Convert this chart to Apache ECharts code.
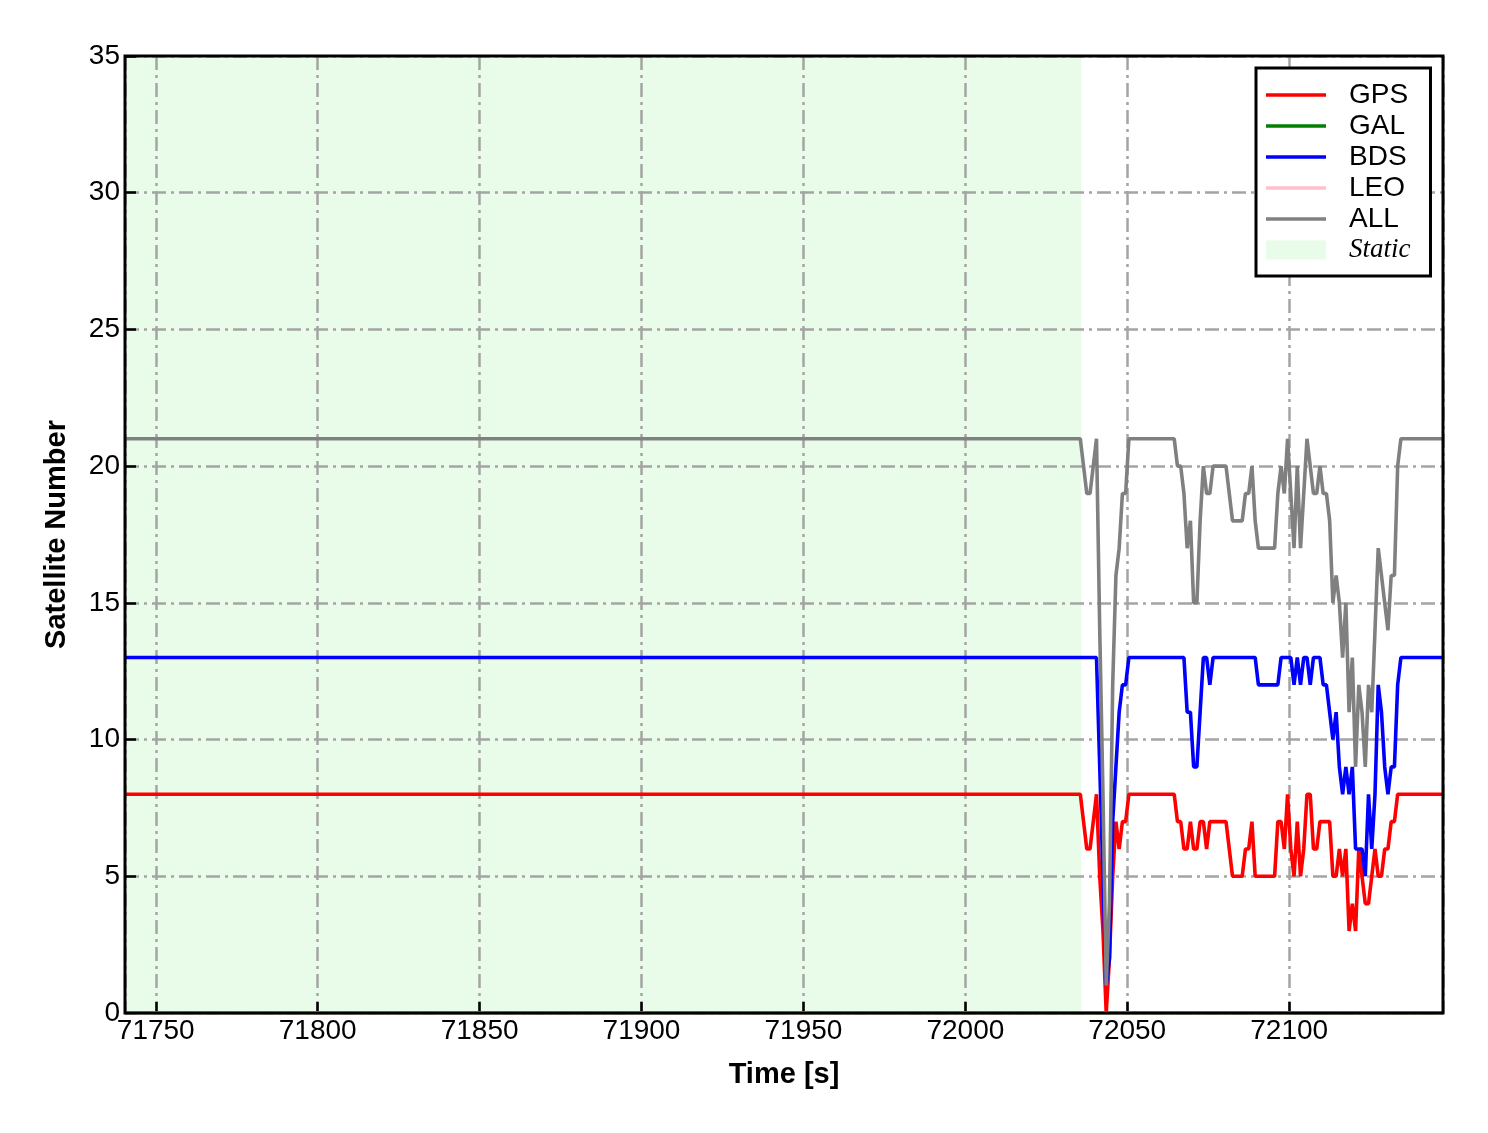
<!DOCTYPE html>
<html>
<head>
<meta charset="utf-8">
<script src="https://cdn.jsdelivr.net/npm/echarts@6/dist/echarts.min.js"></script>
<style>
html,body{margin:0;padding:0;background:#fff;}
#chart{width:1488px;height:1133px;}
</style>
</head>
<body>
<div id="chart"></div>
<script>
// Sampling times [s]
const times = [71740.5,
  72035.5,72036.5,72037.5,72038.5,72039.5,72040.5,72041.5,72042.5,72043.5,72044.5,
  72045.5,72046.5,72047.5,72048.5,72049.5,72050.5,72051.5,72052.5,72053.5,72054.5,
  72055.5,72056.5,72057.5,72058.5,72059.5,72060.5,72061.5,72062.5,72063.5,72064.5,
  72065.5,72066.5,72067.5,72068.5,72069.5,72070.5,72071.5,72072.5,72073.5,72074.5,
  72075.5,72076.5,72077.5,72078.5,72079.5,72080.5,72081.5,72082.5,72083.5,72084.5,
  72085.5,72086.5,72087.5,72088.5,72089.5,72090.5,72091.5,72092.5,72093.5,72094.5,
  72095.5,72096.5,72097.5,72098.5,72099.5,72100.5,72101.5,72102.5,72103.5,72104.5,
  72105.5,72106.5,72107.5,72108.5,72109.5,72110.5,72111.5,72112.5,72113.5,72114.5,
  72115.5,72116.5,72117.5,72118.5,72119.5,72120.5,72121.5,72122.5,72123.5,72124.5,
  72125.5,72126.5,72127.5,72128.5,72129.5,72130.5,72131.5,72132.5,72133.5,72134.5,
  72135.5,72136.5,72137.5,72138.5,72139.5,72140.5,72141.5,72142.5,72143.5,72144.5,
  72145.5,72146.5,72147.5];

const gpsCount = [8,
  8,7,6,6,7,8,5,3,0,2,
  5,7,6,7,7,8,8,8,8,8,
  8,8,8,8,8,8,8,8,8,8,
  7,7,6,6,7,6,6,7,7,6,
  7,7,7,7,7,7,6,5,5,5,
  5,6,6,7,5,5,5,5,5,5,
  5,7,7,6,8,6,5,7,5,6,
  8,8,6,6,7,7,7,7,5,5,
  6,5,6,3,4,3,6,5,4,4,
  5,6,5,5,6,6,7,7,8,8,
  8,8,8,8,8,8,8,8,8,8,
  8,8,8];

const bdsCount = [13,
  13,13,13,13,13,13,9,5,1,2,
  7,9,11,12,12,13,13,13,13,13,
  13,13,13,13,13,13,13,13,13,13,
  13,13,13,11,11,9,9,11,13,13,
  12,13,13,13,13,13,13,13,13,13,
  13,13,13,13,13,12,12,12,12,12,
  12,12,13,13,13,13,12,13,12,13,
  13,12,13,13,13,12,12,11,10,11,
  9,8,9,8,9,6,6,6,5,8,
  6,8,12,11,9,8,9,9,12,13,
  13,13,13,13,13,13,13,13,13,13,
  13,13,13];

const allCount = [21,
  21,20,19,19,20,21,14,8,1,4,
  12,16,17,19,19,21,21,21,21,21,
  21,21,21,21,21,21,21,21,21,21,
  20,20,19,17,18,15,15,18,20,19,
  19,20,20,20,20,20,19,18,18,18,
  18,19,19,20,18,17,17,17,17,17,
  17,19,20,19,21,19,17,20,17,19,
  21,20,19,19,20,19,19,18,15,16,
  15,13,15,11,13,9,12,11,9,12,
  11,14,17,16,15,14,16,16,20,21,
  21,21,21,21,21,21,21,21,21,21,
  21,21,21];

// GAL and LEO stay at zero over the whole span
const galTimes = [71740.5, 72147.5];
const galCount = [0, 0];
const leoTimes = [71740.5, 72147.5];
const leoCount = [0, 0];

// Static period
const staticPeriod = [71740.5, 72035.8];

const xRange = [71740.5, 72147.5];
const yRange = [0, 35];

const pairs = (ts, vs) => ts.map((t, i) => [t, vs[i]]);

const FONT = "'Liberation Sans', Arial, sans-serif";
const SERIF = "'Liberation Serif', 'Times New Roman', serif";
const LINE_ICON = 'path://M0,0H60V3.5H0Z';
const GRID_LINE = {color: '#a4a4a4', width: 2.5, type: [14, 5, 3, 5]};

const lineSeries = (name, ts, vs, color) => ({
  name: name,
  type: 'line',
  data: pairs(ts, vs),
  showSymbol: false,
  symbol: 'none',
  lineStyle: {color: color, width: 3.6},
  itemStyle: {color: color},
  z: 2,
  animation: false
});

const chart = echarts.init(document.getElementById('chart'), null, {renderer: 'canvas'});
chart.setOption({
  backgroundColor: '#ffffff',
  animation: false,
  grid: {
    left: 125, top: 56, right: 45, bottom: 120,
    show: true, borderColor: '#000', borderWidth: 3,
    backgroundColor: 'transparent', z: 10
  },
  xAxis: {
    type: 'value',
    min: xRange[0], max: xRange[1],
    splitNumber: 8, minInterval: 50, maxInterval: 50,
    name: 'Time [s]', nameLocation: 'middle', nameGap: 47,
    nameTextStyle: {fontFamily: FONT, fontSize: 29, fontWeight: 'bold', color: '#000'},
    axisLine: {show: false},
    axisTick: {show: true, inside: true, length: 11, lineStyle: {color: '#000', width: 2.5}},
    axisLabel: {
      fontFamily: FONT, fontSize: 28, color: '#000', margin: 4,
      showMinLabel: false, showMaxLabel: false,
      formatter: v => (Math.abs(v % 50) < 1e-6 ? String(v) : '')
    },
    splitLine: {show: true, lineStyle: GRID_LINE}
  },
  yAxis: {
    type: 'value',
    min: yRange[0], max: yRange[1], interval: 5,
    name: 'Satellite Number', nameLocation: 'middle', nameGap: 54,
    nameTextStyle: {fontFamily: FONT, fontSize: 29, fontWeight: 'bold', color: '#000'},
    axisLine: {show: false},
    axisTick: {show: true, inside: true, length: 11, lineStyle: {color: '#000', width: 2.5}},
    axisLabel: {fontFamily: FONT, fontSize: 28, color: '#000', margin: 5},
    splitLine: {show: true, lineStyle: GRID_LINE}
  },
  legend: {
    orient: 'vertical',
    left: 1256, top: 68,
    backgroundColor: '#ffffff',
    borderColor: '#000', borderWidth: 3, borderRadius: 0,
    padding: [13, 20, 12, 10],
    itemGap: 3, itemWidth: 60, itemHeight: 19,
    selectedMode: false,
    textStyle: {fontFamily: FONT, fontSize: 28, color: '#000', lineHeight: 28, padding: [0, 0, 0, 18]},
    data: [
      {name: 'GPS', icon: LINE_ICON},
      {name: 'GAL', icon: LINE_ICON},
      {name: 'BDS', icon: LINE_ICON},
      {name: 'LEO', icon: LINE_ICON},
      {name: 'ALL', icon: LINE_ICON},
      {name: 'Static', icon: 'rect', itemStyle: {color: '#e9fce9'},
       textStyle: {fontFamily: SERIF, fontStyle: 'italic', fontSize: 27}}]
  },
  series: [
    {
      name: 'Static', type: 'line', data: [], z: 0,
      itemStyle: {color: '#e9fce9'},
      markArea: {
        silent: true, z: -5,
        itemStyle: {color: 'rgba(144,238,144,0.2)'},
        data: [[{xAxis: staticPeriod[0]}, {xAxis: staticPeriod[1]}]]
      }
    },
    lineSeries('GPS', times, gpsCount, '#ff0000'),
    lineSeries('GAL', galTimes, galCount, '#008000'),
    lineSeries('BDS', times, bdsCount, '#0000ff'),
    lineSeries('LEO', leoTimes, leoCount, '#ffc0cb'),
    lineSeries('ALL', times, allCount, '#808080')
  ]
});
</script>
</body>
</html>
